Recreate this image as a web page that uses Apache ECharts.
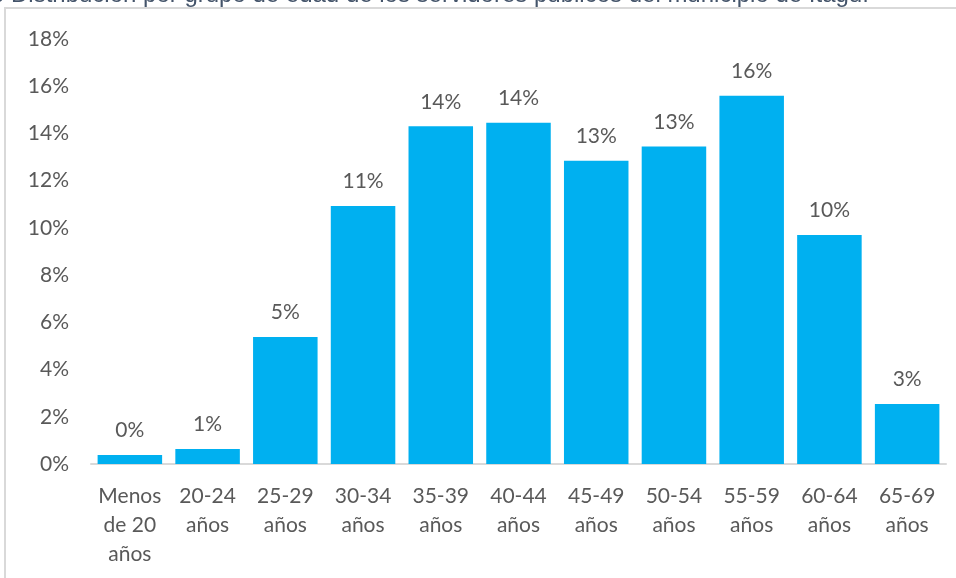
<!DOCTYPE html>
<html>
<head>
<meta charset="utf-8">
<script src="https://cdn.jsdelivr.net/npm/echarts@6/dist/echarts.min.js"></script>
<style>
  html, body { margin: 0; padding: 0; background: #ffffff; }
  #chart { width: 956px; height: 578px; }
</style>
</head>
<body>
<div id="chart"></div>
<script>
// Age groups of municipal public servants (share of total, %)
const categories = [
  'Menos\nde 20\naños', '20-24\naños', '25-29\naños', '30-34\naños', '35-39\naños',
  '40-44\naños', '45-49\naños', '50-54\naños', '55-59\naños', '60-64\naños', '65-69\naños'
];
const shares = [0.38, 0.64, 5.38, 10.93, 14.3, 14.45, 12.84, 13.45, 15.6, 9.7, 2.54];
const yTicks = [0, 2, 4, 6, 8, 10, 12, 14, 16, 18];
const titlePrefix = 'Gráfico ';
const titleMain = 'Distribución por grupo de edad de los servidores públicos del municipio de Itagüí';

const textColor = '#595959';
const fontFamily = 'Lato, "Open Sans", sans-serif';
const titleFamily = '"Liberation Sans", Arial, sans-serif';

// Size the caption so its main phrase spans the page width, with the prefix running off the left edge
const measure = document.createElement('canvas').getContext('2d');
measure.font = '100px ' + titleFamily;
const titleSize = 100 * 858 / measure.measureText(titleMain).width;
measure.font = titleSize + 'px ' + titleFamily;
const titleX = 11 - measure.measureText(titlePrefix).width;

const chart = echarts.init(document.getElementById('chart'), null, { renderer: 'canvas' });

chart.setOption({
  animation: false,
  backgroundColor: '#ffffff',
  graphic: [
    {
      type: 'rect',
      shape: { x: 5, y: 8, width: 1000, height: 600 },
      style: { fill: 'none', stroke: '#d9d9d9', lineWidth: 2 },
      silent: true
    },
    {
      type: 'text',
      x: titleX,
      y: 7,
      style: {
        text: titlePrefix + titleMain,
        font: titleSize.toFixed(2) + 'px ' + titleFamily,
        fill: '#44546A',
        textVerticalAlign: 'bottom'
      },
      silent: true
    }
  ],
  grid: { left: 91, right: 10, top: 39, bottom: 114 },
  xAxis: {
    type: 'category',
    data: categories,
    axisLine: { lineStyle: { color: '#d9d9d9', width: 2 } },
    axisTick: { show: false },
    axisLabel: {
      color: textColor,
      fontSize: 21,
      fontFamily: fontFamily,
      lineHeight: 29,
      margin: 18,
      interval: 0
    }
  },
  yAxis: {
    type: 'value',
    min: yTicks[0],
    max: yTicks[yTicks.length - 1],
    interval: 2,
    axisLine: { show: false },
    axisTick: { show: false },
    splitLine: { show: false },
    axisLabel: {
      color: textColor,
      fontSize: 21,
      fontFamily: fontFamily,
      margin: 22,
      formatter: v => v + '%'
    }
  },
  series: [{
    type: 'bar',
    data: shares,
    barCategoryGap: '17%',
    itemStyle: { color: '#00B0F0' },
    label: {
      show: true,
      position: 'top',
      distance: 14,
      color: textColor,
      fontSize: 21,
      fontFamily: fontFamily,
      formatter: p => Math.round(p.value) + '%'
    }
  }]
});
</script>
</body>
</html>
